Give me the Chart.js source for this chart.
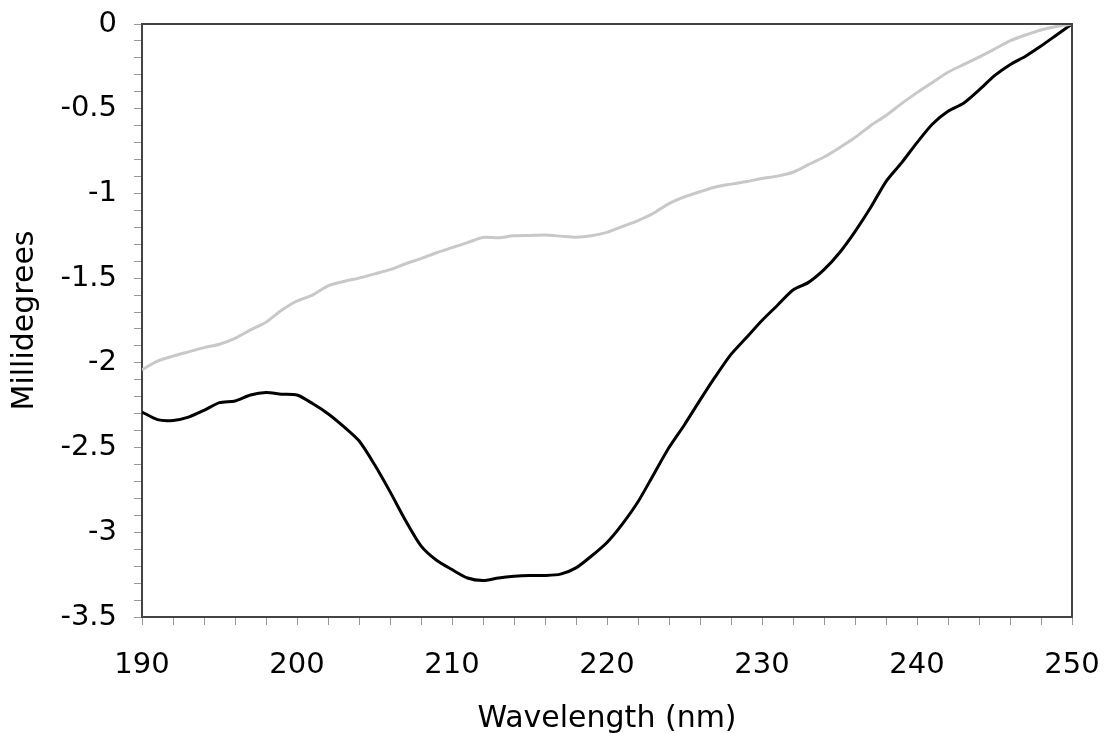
<!DOCTYPE html>
<html>
<head>
<meta charset="utf-8">
<script src="https://cdn.jsdelivr.net/npm/chart.js@4/dist/chart.umd.min.js"></script>
<style>
html,body{margin:0;padding:0;background:#fff;}
#wrap{width:1104px;height:733px;}
</style>
</head>
<body>
<div id="wrap"><canvas id="c" width="1104" height="733"></canvas></div>
<script>
const wavelengths = [190,191,192,193,194,195,196,197,198,199,200,201,202,203,204,205,206,207,208,209,210,211,212,213,214,215,216,217,218,219,220,221,222,223,224,225,226,227,228,229,230,231,232,233,234,235,236,237,238,239,240,241,242,243,244,245,246,247,248,249,250];
const sampleBlack = [-2.29,-2.335,-2.34,-2.32,-2.28,-2.235,-2.225,-2.19,-2.175,-2.185,-2.19,-2.24,-2.30,-2.375,-2.46,-2.6,-2.76,-2.93,-3.08,-3.165,-3.22,-3.27,-3.285,-3.27,-3.26,-3.255,-3.255,-3.247,-3.21,-3.14,-3.06,-2.95,-2.82,-2.66,-2.5,-2.365,-2.22,-2.08,-1.95,-1.85,-1.75,-1.66,-1.57,-1.525,-1.45,-1.35,-1.225,-1.085,-0.93,-0.82,-0.70,-0.59,-0.515,-0.468,-0.39,-0.305,-0.24,-0.19,-0.13,-0.065,0];
const sampleGray = [-2.04,-1.99,-1.96,-1.935,-1.91,-1.89,-1.855,-1.805,-1.76,-1.69,-1.635,-1.6,-1.545,-1.52,-1.5,-1.475,-1.45,-1.415,-1.385,-1.35,-1.32,-1.29,-1.26,-1.262,-1.25,-1.248,-1.246,-1.252,-1.259,-1.25,-1.23,-1.195,-1.16,-1.117,-1.06,-1.02,-0.99,-0.962,-0.945,-0.93,-0.912,-0.898,-0.875,-0.83,-0.785,-0.73,-0.67,-0.6,-0.54,-0.47,-0.405,-0.345,-0.285,-0.24,-0.195,-0.148,-0.10,-0.065,-0.035,-0.015,0];
const xMajorLabels = [190,200,210,220,230,240,250];
const yMajorLabels = [0,-0.5,-1,-1.5,-2,-2.5,-3,-3.5];

const FONT = "'DejaVu Sans', Verdana, sans-serif";

const frame = {
  id: 'frame',
  afterDatasetsDraw(chart) {
    const a = chart.chartArea, ctx = chart.ctx;
    ctx.save();
    ctx.strokeStyle = '#444';
    ctx.lineWidth = 2;
    ctx.beginPath();
    ctx.moveTo(a.left, a.top);
    ctx.lineTo(a.right, a.top);
    ctx.lineTo(a.right, a.bottom);
    ctx.stroke();
    ctx.restore();
  }
};

new Chart(document.getElementById('c'), {
  type: 'line',
  data: {
    datasets: [
      {
        label: 'gray',
        data: wavelengths.map((w, i) => ({x: w, y: sampleGray[i]})),
        borderColor: '#c8c8c8',
        borderWidth: 3,
        pointRadius: 0,
        tension: 0.25,
        fill: false
      },
      {
        label: 'black',
        data: wavelengths.map((w, i) => ({x: w, y: sampleBlack[i]})),
        borderColor: '#000',
        borderWidth: 3,
        pointRadius: 0,
        tension: 0.25,
        fill: false
      }
    ]
  },
  options: {
    responsive: false,
    animation: false,
    devicePixelRatio: 1,
    layout: { padding: { left: 5, right: 32, top: 24, bottom: 0 } },
    plugins: { legend: { display: false }, tooltip: { enabled: false } },
    scales: {
      x: {
        type: 'linear',
        min: 190, max: 250,
        afterFit(s) { s.height = 733 - 617; s.paddingLeft = 0; s.paddingRight = 0; },
        border: { display: true, color: '#444', width: 2 },
        grid: { drawOnChartArea: false, drawTicks: true, tickLength: 8, color: '#999', lineWidth: 1 },
        ticks: {
          stepSize: 2,
          autoSkip: false,
          maxRotation: 0,
          padding: 23,
          color: '#000',
          font: { family: FONT, size: 29 },
          callback: (v) => xMajorLabels.includes(Math.round(v)) && Math.abs(v - Math.round(v)) < 1e-6 ? String(Math.round(v)) : ''
        },
        title: { display: true, text: 'Wavelength (nm)', color: '#000', font: { family: FONT, size: 30 }, padding: { top: 0, bottom: -4 } }
      },
      y: {
        type: 'linear',
        min: -3.5, max: 0,
        afterFit(s) { s.width = 142 - 5; s.paddingTop = 0; s.paddingBottom = 0; },
        border: { display: true, color: '#444', width: 2 },
        grid: { drawOnChartArea: false, drawTicks: true, tickLength: 8, color: '#999', lineWidth: 1 },
        ticks: {
          stepSize: 0.1,
          autoSkip: false,
          padding: 17,
          color: '#000',
          font: { family: FONT, size: 29 },
          callback: (v) => {
            const r = Math.round(v * 10) / 10;
            return yMajorLabels.some(m => Math.abs(m - v) < 1e-6) ? String(r) : '';
          }
        },
        title: { display: true, text: 'Millidegrees', color: '#000', font: { family: FONT, size: 30 }, padding: { top: 2, bottom: 0 } }
      }
    }
  },
  plugins: [frame]
});
</script>
</body>
</html>
